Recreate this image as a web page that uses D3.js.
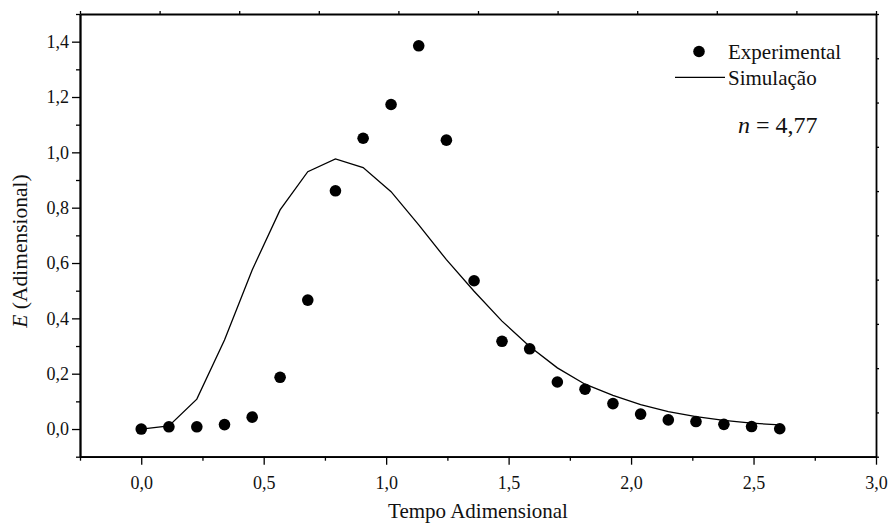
<!DOCTYPE html>
<html>
<head>
<meta charset="utf-8">
<script src="https://cdn.jsdelivr.net/npm/d3@7"></script>
<style>
  html, body { margin: 0; padding: 0; background: #fff; }
  svg { display: block; }
  svg text { font-family: "Liberation Serif", "Times New Roman", serif; }
</style>
</head>
<body>
<svg id="chart" width="888" height="524"></svg>
<script>
// Dimensionless time at which each sample was taken
const tempo = [0, 0.113, 0.227, 0.340, 0.453, 0.567, 0.680, 0.793, 0.906, 1.020,
               1.133, 1.246, 1.359, 1.473, 1.586, 1.699, 1.812, 1.926, 2.039, 2.152,
               2.265, 2.379, 2.492, 2.607];
// Measured residence-time distribution E
const experimental = [0, 0.008, 0.008, 0.016, 0.043, 0.187, 0.466, 0.861, 1.051, 1.173,
                      1.385, 1.044, 0.536, 0.317, 0.290, 0.170, 0.144, 0.092, 0.054, 0.033,
                      0.027, 0.017, 0.009, 0.001];
// Tanks-in-series model, n = 4,77
const simulacao = [0, 0.011, 0.108, 0.322, 0.575, 0.792, 0.930, 0.976, 0.945, 0.858,
                   0.738, 0.612, 0.498, 0.390, 0.298, 0.221, 0.162, 0.122, 0.088, 0.063,
                   0.045, 0.031, 0.021, 0.015];

const xTicks = [0, 0.5, 1.0, 1.5, 2.0, 2.5, 3.0];
const yTicks = [0, 0.2, 0.4, 0.6, 0.8, 1.0, 1.2, 1.4];
const xDomain = [-0.25, 3.0];
const yDomain = [-0.1, 1.5];

const svg = d3.select("#chart");
const plotL = 80, plotR = 876, plotT = 14, plotB = 456.7;
const serif = "Liberation Serif, Times New Roman, serif";

const x = d3.scaleLinear().domain(xDomain).range([plotL, plotR]);
const y = d3.scaleLinear().domain(yDomain).range([plotB, plotT]);

const pt = d3.formatLocale({ decimal: ",", thousands: ".", grouping: [3], currency: ["", ""] });
const fmt = pt.format(".1f");

// minor ticks halfway between labelled ones
const xMinor = d3.range(-0.25, 3.0001, 0.25).filter(v => Math.abs(v * 2 - Math.round(v * 2)) > 1e-6);
const yMinor = d3.range(-0.1, 1.5001, 0.2).map(v => +v.toFixed(2));

const axisFont = 18;

// bottom axis
svg.append("g").attr("transform", `translate(0,${plotB})`)
  .call(d3.axisBottom(x).tickValues(xTicks).tickFormat(fmt).tickSize(8).tickSizeOuter(0).tickPadding(12));
svg.append("g").attr("transform", `translate(0,${plotB})`)
  .call(d3.axisBottom(x).tickValues(xMinor).tickFormat("").tickSize(4).tickSizeOuter(0));

// left axis
svg.append("g").attr("transform", `translate(${plotL},0)`)
  .call(d3.axisLeft(y).tickValues(yTicks).tickFormat(fmt).tickSize(8).tickSizeOuter(0).tickPadding(3));
svg.append("g").attr("transform", `translate(${plotL},0)`)
  .call(d3.axisLeft(y).tickValues(yMinor).tickFormat("").tickSize(4).tickSizeOuter(0));

// top and right frame axes with ten even divisions
const topTicks = d3.range(11).map(i => xDomain[0] + (xDomain[1] - xDomain[0]) * i / 10);
const rightTicks = d3.range(11).map(i => yDomain[0] + (yDomain[1] - yDomain[0]) * i / 10);
svg.append("g").attr("transform", `translate(0,${plotT})`)
  .call(d3.axisTop(x).tickValues(topTicks).tickFormat("").tickSize(3).tickSizeOuter(0));
svg.append("g").attr("transform", `translate(${plotR},0)`)
  .call(d3.axisRight(y).tickValues(rightTicks).tickFormat("").tickSize(3).tickSizeOuter(0));

svg.selectAll("g").attr("font-family", serif);
svg.selectAll(".domain").attr("stroke", "#000").attr("stroke-width", 1.8);
svg.selectAll(".tick line").attr("stroke", "#000").attr("stroke-width", 1.3);
svg.selectAll(".tick text")
  .attr("font-family", serif)
  .attr("font-size", axisFont).attr("fill", "#111");

// axis titles
svg.append("text")
  .attr("x", (plotL + plotR) / 2).attr("y", 518)
  .attr("text-anchor", "middle").attr("font-family", serif).attr("font-size", 21).attr("fill", "#111")
  .text("Tempo Adimensional");

const yTitle = svg.append("text")
  .attr("transform", "translate(27,251) rotate(-90)")
  .attr("text-anchor", "middle").attr("font-family", serif).attr("font-size", 21.5).attr("fill", "#111");
yTitle.append("tspan").attr("font-style", "italic").text("E");
yTitle.append("tspan").text(" (Adimensional)");

// simulated curve
const line = d3.line().x((d, i) => x(tempo[i])).y(d => y(d));
svg.append("path")
  .datum(simulacao)
  .attr("d", line)
  .attr("fill", "none").attr("stroke", "#000").attr("stroke-width", 1.3)
  .attr("stroke-linejoin", "miter");

// measured points
svg.append("g").selectAll("circle")
  .data(experimental)
  .join("circle")
  .attr("cx", (d, i) => x(tempo[i]))
  .attr("cy", d => y(d))
  .attr("r", 5.8)
  .attr("fill", "#000");

// legend
const lg = svg.append("g").attr("font-family", serif).attr("fill", "#111");
lg.append("circle").attr("cx", 699).attr("cy", 51.5).attr("r", 5.8).attr("fill", "#000");
lg.append("text").attr("x", 728).attr("y", 58.5).attr("font-size", 21).text("Experimental");
lg.append("line").attr("x1", 675).attr("x2", 725).attr("y1", 77.3).attr("y2", 77.3)
  .attr("stroke", "#000").attr("stroke-width", 1.3);
lg.append("text").attr("x", 728).attr("y", 85).attr("font-size", 21).text("Simulação");

const nText = svg.append("text").attr("x", 738).attr("y", 133)
  .attr("font-family", serif).attr("font-size", 24).attr("fill", "#111");
nText.append("tspan").attr("font-style", "italic").text("n");
nText.append("tspan").text(" = 4,77");
</script>
</body>
</html>
